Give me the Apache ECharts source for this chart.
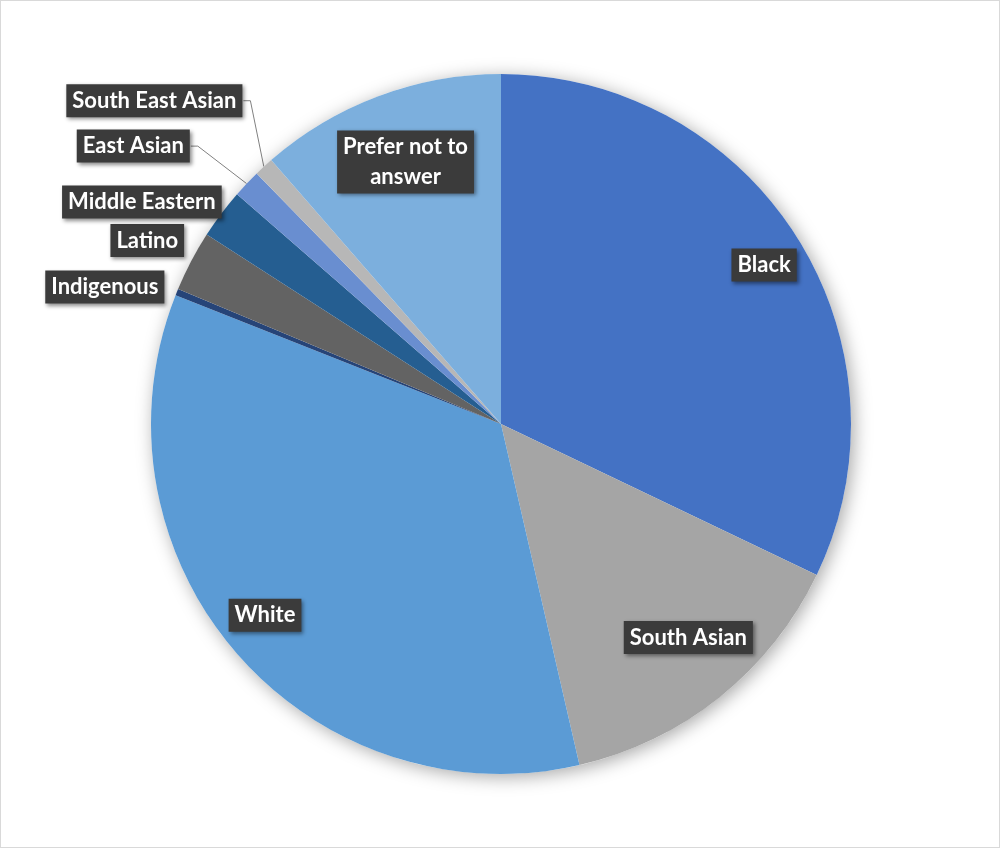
<!DOCTYPE html>
<html>
<head>
<meta charset="utf-8">
<script src="https://cdn.jsdelivr.net/npm/echarts@6/dist/echarts.min.js"></script>
<style>
  html, body { margin: 0; padding: 0; background: #fff; }
  #chart { width: 1000px; height: 848px; border: 1px solid #d9d9d9; box-sizing: border-box; }
</style>
</head>
<body>
<div id="chart"></div>
<script>
// categories and shares (%)
var categories = ['Black', 'South Asian', 'White', 'Indigenous', 'Latino',
                  'Middle Eastern', 'East Asian', 'South East Asian', 'Prefer not to\nanswer'];
var shares = [32.1, 14.3, 34.6, 0.3, 2.8, 2.3, 1.3, 0.9, 11.4];
var colors = ['#4472C4', '#A5A5A5', '#5B9BD5', '#264478', '#636363',
              '#255E91', '#698ED0', '#B7B7B7', '#7CAFDD'];
// label placement: inside the slice or outside, leader line or not
var insideLabel = [true, true, true, false, false, false, false, false, true];
var leaderLine  = [false, false, false, false, false, false, true, true, false];
// nudge of each label from where echarts puts it (px)
var labelShift = [[11, 0], [1, -19], [-10, -3], [8, -2], [13, -17],
                  [20, -7], [-38, -32], [-3, -60], [9, 17]];

var chart = echarts.init(document.getElementById('chart'));

var labelBox = {
  color: '#ffffff',
  fontFamily: 'Lato',
  fontWeight: 'bold',
  fontSize: 22,
  lineHeight: 30,
  backgroundColor: '#3b3b3b',
  padding: [2, 6, 1, 6],
  shadowColor: 'rgba(0,0,0,0.45)',
  shadowBlur: 4,
  shadowOffsetX: 2,
  shadowOffsetY: 2
};

var pieData = [];
var labelData = [];
for (var i = 0; i < categories.length; i++) {
  pieData.push({ name: categories[i], value: shares[i], itemStyle: { color: colors[i] } });
  labelData.push({
    name: categories[i],
    value: shares[i],
    label: Object.assign({ show: true, position: insideLabel[i] ? 'inside' : 'outside' }, labelBox),
    labelLine: { show: leaderLine[i] }
  });
}

chart.setOption({
  animation: false,
  series: [{
    // soft shadow under the whole pie
    type: 'pie',
    silent: true,
    center: [500, 423],
    radius: [0, 350],
    label: { show: false },
    labelLine: { show: false },
    itemStyle: { color: '#ffffff', shadowBlur: 18, shadowColor: 'rgba(0,0,0,0.35)', shadowOffsetX: 3, shadowOffsetY: 3 },
    data: [{ name: 'bg', value: 1 }]
  }, {
    type: 'pie',
    silent: true,
    center: [500, 423],
    radius: [0, 350],
    startAngle: 90,
    label: { show: false },
    labelLine: { show: false },
    data: pieData
  }, {
    // transparent ring that only carries the labels
    type: 'pie',
    silent: true,
    center: [500, 423],
    radius: [240, 350],
    startAngle: 90,
    avoidLabelOverlap: false,
    itemStyle: { color: 'rgba(0,0,0,0)', borderWidth: 0 },
    labelLine: { length: 8, length2: 8, lineStyle: { color: '#808080', width: 1 } },
    labelLayout: function (params) {
      var s = labelShift[params.dataIndex];
      var out = { dx: s[0], dy: s[1] };
      var pts = params.labelLinePoints;
      if (leaderLine[params.dataIndex] && pts) {
        var r = params.labelRect;
        var endX = r.x + r.width + s[0] + 1;
        var endY = r.y + r.height / 2 + s[1];
        out.labelLinePoints = [pts[0], [endX + 7, endY], [endX, endY]];
      }
      return out;
    },
    data: labelData
  }]
});
</script>
</body>
</html>
